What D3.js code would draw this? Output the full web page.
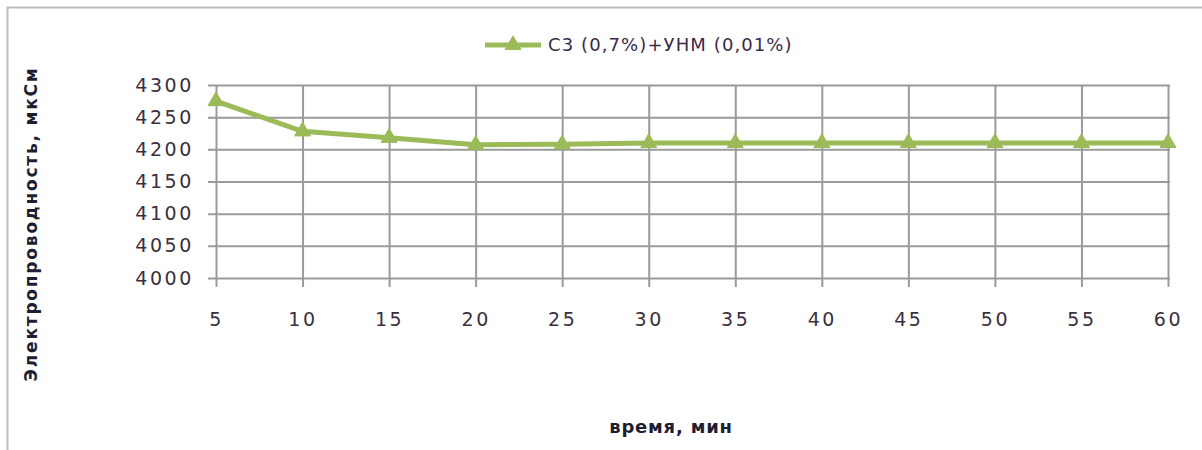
<!DOCTYPE html>
<html>
<head>
<meta charset="utf-8">
<script src="https://cdn.jsdelivr.net/npm/d3@7"></script>
<style>
  html, body { margin: 0; padding: 0; background: #fff; }
  svg text { font-family: "DejaVu Sans", Verdana, sans-serif; }
</style>
</head>
<body>
<svg id="chart" width="1202" height="450"></svg>
<script>
// Conductivity of the С3 + УНМ mixture over time
const times = [5, 10, 15, 20, 25, 30, 35, 40, 45, 50, 55, 60];
const conductivity = [4275, 4228, 4218, 4207, 4208, 4210, 4210, 4210, 4210, 4210, 4210, 4210];
const yTicks = [4000, 4050, 4100, 4150, 4200, 4250, 4300];
const seriesName = "С3 (0,7%)+УНМ (0,01%)";
const xTitle = "время, мин";
const yTitle = "Электропроводность,  мкСм";

const svg = d3.select("#chart");
const lineColor = "#9bbb59";
const gridColor = "#9a9a9a";

// chart frame
svg.append("rect")
  .attr("x", 7.5).attr("y", 7.5)
  .attr("width", 1202).attr("height", 460)
  .attr("fill", "none").attr("stroke", "#bdbdbd").attr("stroke-width", 2);

const plot = { left: 216, right: 1168, top: 85, bottom: 278 };

const x = d3.scalePoint().domain(times).range([plot.left, plot.right]);
const y = d3.scaleLinear().domain([4000, 4300]).range([plot.bottom, plot.top]);

// horizontal gridlines with outward ticks on the value axis
const yAxis = d3.axisLeft(y).tickValues(yTicks).tickFormat(d3.format("d"))
  .tickSize(-(plot.right - plot.left + 8)).tickPadding(18);
const gy = svg.append("g").attr("transform", `translate(${plot.left - 8},0)`).call(yAxis);
gy.select(".domain").remove();
gy.selectAll(".tick line")
  .attr("x1", 0).attr("x2", plot.right - plot.left + 10)
  .attr("stroke", gridColor).attr("stroke-width", 2);
gy.selectAll(".tick text")
  .attr("x", -14)
  .attr("font-size", 19).attr("letter-spacing", 2.6)
  .attr("fill", "#3a3040");

// vertical gridlines with outward ticks on the category axis
const xAxis = d3.axisBottom(x).tickValues(times).tickFormat(d3.format("d"))
  .tickSize(-(plot.bottom - plot.top)).tickPadding(30);
const gx = svg.append("g").attr("transform", `translate(0,${plot.bottom + 9})`).call(xAxis);
gx.select(".domain").remove();
gx.selectAll(".tick line")
  .attr("y1", 0).attr("y2", -(plot.bottom - plot.top + 9))
  .attr("stroke", gridColor).attr("stroke-width", 2);
gx.selectAll(".tick text")
  .attr("y", 26)
  .attr("font-size", 19).attr("letter-spacing", 2.6)
  .attr("fill", "#3a3040");

// data line
const line = d3.line().x((d, i) => x(times[i])).y(d => y(d));
svg.append("path")
  .datum(conductivity)
  .attr("d", line)
  .attr("fill", "none")
  .attr("stroke", lineColor)
  .attr("stroke-width", 5)
  .attr("stroke-linejoin", "round");

// triangle markers
const tri = d3.symbol().type(d3.symbolTriangle).size(110);
svg.append("g").selectAll("path")
  .data(conductivity)
  .join("path")
  .attr("d", tri)
  .attr("transform", (d, i) => `translate(${x(times[i])},${y(d)})`)
  .attr("fill", lineColor)
  .attr("stroke", lineColor)
  .attr("stroke-width", 1);

// legend
const lg = svg.append("g").attr("transform", "translate(485,45)");
lg.append("line").attr("x1", 0).attr("x2", 56).attr("y1", 0).attr("y2", 0)
  .attr("stroke", lineColor).attr("stroke-width", 5);
lg.append("path").attr("d", tri).attr("transform", "translate(28,0)")
  .attr("fill", lineColor).attr("stroke", lineColor);
lg.append("text").attr("x", 63).attr("y", 0).attr("dy", "0.35em")
  .attr("font-size", 18).attr("letter-spacing", 1.1)
  .attr("fill", "#3a2a48")
  .text(seriesName);

// axis titles
svg.append("text")
  .attr("x", 671).attr("y", 428)
  .attr("text-anchor", "middle").attr("dominant-baseline", "middle")
  .attr("font-size", 18).attr("font-weight", "bold").attr("letter-spacing", 0.8)
  .attr("fill", "#1e1e30")
  .text(xTitle);

svg.append("text")
  .attr("transform", "translate(32,224) rotate(-90)")
  .attr("text-anchor", "middle").attr("dominant-baseline", "middle")
  .attr("font-size", 17).attr("font-weight", "bold").attr("letter-spacing", 1.8)
  .attr("fill", "#1e1e30")
  .text(yTitle);
</script>
</body>
</html>
